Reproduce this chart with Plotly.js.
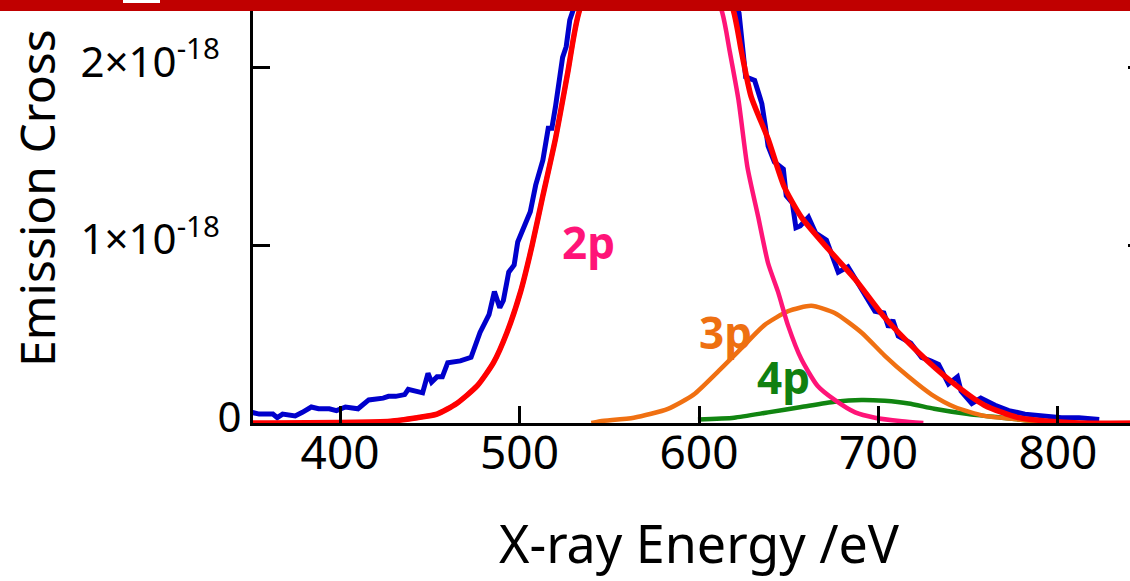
<!DOCTYPE html>
<html>
<head>
<meta charset="utf-8">
<script src="https://cdn.plot.ly/plotly-3.0.1.min.js"></script>
<style>
html,body{margin:0;padding:0;overflow:hidden;background:#fff;width:1130px;height:581px}
#chart{position:absolute;left:0;top:0;width:1150px;height:581px}
#bar{position:absolute;left:0;top:0;width:1130px;height:11px;background:#C00000;z-index:5}
#bar i{position:absolute;left:123px;top:0;width:37px;height:3px;background:#fff}
</style>
</head>
<body>
<div id="chart"></div>
<div id="bar"><i></i></div>
<script>
// Y values are in units of 10^-18
const measuredEnergy = [351,355,362.6,365,368,375,379,384,388,394,398,403,410,416,424,427,431,434,436,438,443,446,449,451,454,457,460,467,473,478,483,486,489,491,494,497,499,504,506,509,511,513,516,518,520,524,526,528,530,575,622.3,625,626,631,635,637,638.5,642,647,648.6,652,654,656.4,661,665,671,674,677.6,683,687,691.6,694,698,703,705.6,708,711,718,724,729,733.5,735,739,744,746,752,757,765,772.6,781.6,791,802,811.7,820,823];
const measuredValue = [0.06,0.05,0.05,0.03,0.05,0.04,0.06,0.09,0.08,0.08,0.07,0.09,0.08,0.13,0.14,0.15,0.15,0.16,0.16,0.19,0.18,0.17,0.28,0.23,0.26,0.26,0.34,0.35,0.37,0.51,0.61,0.74,0.65,0.69,0.85,0.89,1.02,1.13,1.19,1.34,1.42,1.48,1.66,1.66,1.78,2.06,2.12,2.27,2.33,3.4,2.31,2.01,1.95,1.93,1.80,1.67,1.56,1.47,1.43,1.28,1.24,1.10,1.11,1.16,1.07,1.03,0.94,0.85,0.88,0.81,0.74,0.70,0.63,0.62,0.54,0.58,0.49,0.45,0.37,0.35,0.33,0.30,0.22,0.26,0.18,0.11,0.14,0.10,0.07,0.05,0.04,0.03,0.03,0.02,0.02];

const totalEnergy = [351.5,428,443,454,465,476.5,485.5,493,500.6,507,513,520,526.8,533,576,619,623.5,629,638.5,647.5,657,672,687,703,722,741,759,778,795,812,848.5];
const totalValue  = [0,0.01,0.03,0.05,0.11,0.21,0.34,0.51,0.74,1.00,1.28,1.60,1.97,2.31,3.4,2.33,2.10,1.84,1.60,1.33,1.16,0.98,0.81,0.60,0.40,0.23,0.10,0.03,0.01,0,0];

const p2Energy = [420,443,454,465,476.5,485.5,493,500.6,507,513,520,526.8,533,573,613,617,622,627,633,638.5,644,649.6,657,666,675.6,687,698,713,725];
const p2Value  = [0,0.03,0.05,0.11,0.21,0.34,0.51,0.74,1.00,1.28,1.60,1.97,2.31,3.4,2.31,2.10,1.82,1.44,1.16,0.90,0.74,0.55,0.36,0.21,0.13,0.06,0.03,0.01,0];

const p3Energy = [540,545,563.7,582.7,597,610.6,623.5,636.3,649.7,662.6,675.6,690.5,703.4,716.8,729.6,742.5,759,778,795];
const p3Value  = [0,0.01,0.03,0.08,0.16,0.29,0.42,0.55,0.63,0.66,0.62,0.51,0.38,0.26,0.16,0.09,0.04,0.02,0];

const p4Energy = [599.4,619.6,638.5,657,675.6,690.5,703.4,716.8,731,750,768.7,787,792];
const p4Value  = [0.02,0.03,0.06,0.09,0.12,0.13,0.125,0.11,0.08,0.05,0.03,0.01,0];

const xTickVals = [400,500,600,700,800];
const yTickVals = [0,1,2];
const yTickText = ['0','1×10<sup>-18</sup>\u00a0\u00a0','2×10<sup>-18</sup>\u00a0\u00a0'];
const componentLabels = ['2p','3p','4p'];
const labelEnergy = [538.5,614.5,647];
const labelValue = [1.02,0.51,0.26];

const FONT = 'Noto Sans, DejaVu Sans, sans-serif';
const colors = {blue:'#0000CC', red:'#FF0000', pink:'#FF1478', orange:'#F07012', green:'#118511'};

const traces = [
  {x: measuredEnergy, y: measuredValue, mode:'lines', line:{color:colors.blue, width:5}},
  {x: p4Energy, y: p4Value, mode:'lines', line:{color:colors.green, width:4.5, shape:'spline', smoothing:0.6}},
  {x: p3Energy, y: p3Value, mode:'lines', line:{color:colors.orange, width:4.5, shape:'spline', smoothing:0.6}},
  {x: p2Energy, y: p2Value, mode:'lines', line:{color:colors.pink, width:4.5, shape:'spline', smoothing:0.6}},
  {x: totalEnergy, y: totalValue, mode:'lines', line:{color:colors.red, width:5.5, shape:'spline', smoothing:0.6}}
];

const labelColors = [colors.pink, '#EE7011', '#108010'];
const annotations = componentLabels.map((t,i)=>({
  x: labelEnergy[i], y: labelValue[i], xref:'x', yref:'y', text:'<b>'+t+'</b>',
  showarrow:false, font:{family:FONT, size:44, color:labelColors[i]}
}));
annotations.push({
  xref:'paper', yref:'paper', x:-0.242, y:0.128, xanchor:'center', yanchor:'bottom',
  text:'Emission Cross', textangle:-90, showarrow:false,
  font:{family:FONT, size:48, color:'#000'}
});

const axisCommon = {
  showline:true, linewidth:3, linecolor:'#000',
  ticks:'inside', ticklen:17, tickwidth:3, tickcolor:'#000',
  showgrid:false, zeroline:false
};

const layout = {
  width:1150, height:581,
  margin:{l:253, r:5, t:0, b:158},
  paper_bgcolor:'#fff', plot_bgcolor:'#fff',
  showlegend:false,
  font:{family:FONT, color:'#000'},
  xaxis: Object.assign({}, axisCommon, {
    mirror:false,
    range:[351.5,848.5], tickvals:xTickVals, ticktext:xTickVals.map(String),
    tickfont:{family:FONT, size:46, color:'#000'},
    ticklabelstandoff:-12,
    title:{text:'X-ray Energy /eV', font:{family:FONT, size:52, color:'#000'}, standoff:46}
  }),
  yaxis: Object.assign({}, axisCommon, {
    mirror:'ticks',
    range:[0,2.383], tickvals:yTickVals, ticktext:yTickText,
    ticklabelshift:-6,
    tickfont:{family:FONT, size:42, color:'#000'}
  }),
  annotations: annotations
};

Plotly.newPlot('chart', traces, layout, {displayModeBar:false, staticPlot:true});
</script>
</body>
</html>
